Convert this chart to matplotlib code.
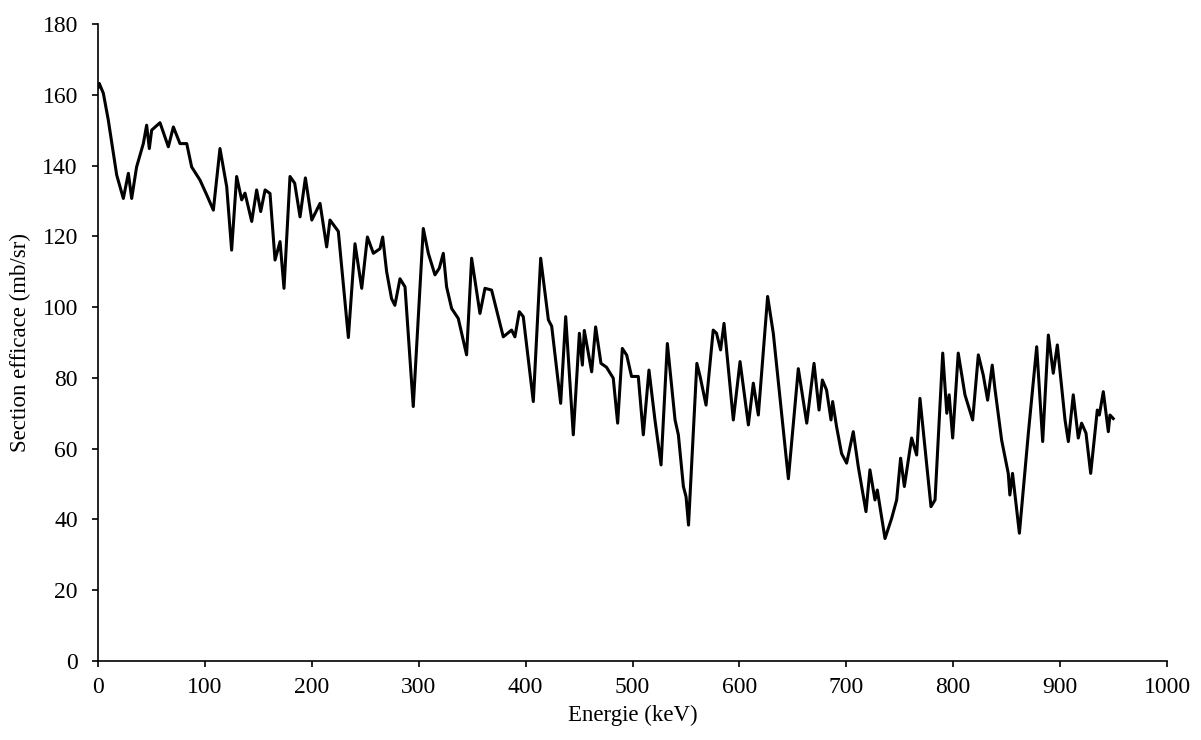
import matplotlib
matplotlib.use("Agg")
import matplotlib.pyplot as plt

# Energie (keV) et section efficace (mb/sr)
energie = [0, 1.2, 5, 9.6, 17.5, 23.7, 28.4, 31.5, 36.1, 42.4, 45.5, 48, 50.2, 58,
           65.8, 70.5, 76.7, 83, 87.6, 95.4, 101.7, 107.9, 114.1, 120.4, 125, 129.7,
           134.4, 137.5, 143.8, 148.4, 152.2, 156.3, 160.9, 165.6, 170.3, 174, 179.6,
           184, 189, 194, 200, 207.7, 213.9, 217, 224.8, 234.2, 240.4, 246.7, 252,
           257.6, 263.8, 266.3, 270, 274.6, 277.7, 282.5, 287.2, 294.9, 304.3, 309,
           315.2, 319.3, 323, 326.1, 330.8, 337, 344.8, 349.5, 357.3, 362, 368.2,
           379.1, 386.9, 390, 394.1, 397.8, 407.2, 414.1, 421.3, 424.4, 432.8, 437.5,
           444.6, 450.3, 453.1, 454.9, 461.8, 465.5, 470.5, 475.7, 482, 486.1, 490.5,
           494.6, 499.1, 505.4, 510.1, 515.4, 521, 526.7, 532.6, 539.8, 542.9, 547.6,
           550.1, 552.4, 560.2, 563.3, 568.8, 575.5, 578.6, 582.4, 585.6, 594.3,
           600.6, 608.4, 613, 617.7, 626.4, 631.7, 645.8, 655.1, 663, 669.8, 674.5,
           677.6, 681.5, 685.7, 687.2, 690.9, 695.6, 700.3, 706.5, 711.2, 718.4,
           722.1, 726.8, 729, 736.2, 742.4, 747.1, 750.8, 754.3, 761.1, 765.8, 768.9,
           779.2, 783, 790.2, 794, 796.2, 799.5, 804.7, 811, 818.2, 823.5, 828.1,
           832.2, 836.5, 839, 845.3, 851.5, 853, 855.5, 861.9, 870.3, 878.1, 883.7,
           889, 893.6, 897.4, 904.6, 907.7, 912.3, 917, 920.1, 924.2, 928.6, 934.8,
           936.7, 940.4, 945.1, 946.6, 949.7]
section = [162, 163.2, 160.4, 152.9, 137.3, 130.7, 137.8, 130.7, 139.6, 146.2, 151.4,
           144.8, 150, 152.1, 145.3, 150.9, 146.2, 146.2, 139.6, 135.9, 131.7, 127.4,
           144.8, 134, 116.1, 136.9, 130.3, 132.2, 124.2, 133.1, 127, 133.1, 132.1,
           113.3, 118.5, 105.3, 136.9, 135, 125.5, 136.5, 124.6, 129.3, 117, 124.6,
           121.4, 91.4, 117.9, 105.3, 119.8, 115.2, 116.5, 119.8, 110, 102.4, 100.5,
           108, 105.7, 71.9, 122.2, 115.2, 109.1, 111, 115.2, 105.7, 99.6, 96.8, 86.5,
           113.8, 98.2, 105.3, 104.8, 91.6, 93.5, 91.6, 98.7, 97.3, 73.3, 113.8, 96.4,
           94.6, 72.8, 97.3, 63.9, 92.6, 83.6, 93.4, 81.7, 94.4, 84.1, 83, 79.9, 67.2,
           88.3, 86.4, 80.4, 80.4, 63.9, 82.2, 68.1, 55.4, 89.7, 68.1, 63.9, 49.3,
           46.4, 38.4, 84.1, 80.3, 72.3, 93.5, 92.6, 87.9, 95.4, 68.1, 84.6, 66.7,
           78.5, 69.5, 103, 92.6, 51.5, 82.6, 67.2, 84.1, 70.9, 79.4, 76.6, 68.1,
           73.3, 66.2, 58.6, 55.9, 64.8, 54.9, 42.2, 54, 45.5, 48.3, 34.6, 40.3, 45.5,
           57.3, 49.3, 63, 58.2, 74.2, 43.6, 45.5, 87, 70, 75.2, 63, 87, 75.2, 68.1,
           86.5, 80.8, 73.7, 83.6, 77, 62.4, 53, 46.9, 53, 36.1, 64.4, 88.8, 62,
           92.1, 81.3, 89.3, 68.1, 62, 75.2, 63, 67.2, 64.4, 53, 70.9, 69.5, 76.1,
           64.8, 69.5, 68.5]

x_ticks = list(range(0, 1001, 100))
y_ticks = list(range(0, 181, 20))

plt.rcParams['font.family'] = ['Liberation Serif', 'DejaVu Serif']

fig = plt.figure(figsize=(12.01, 7.40), dpi=100)
ax = fig.add_axes([0.0816, 0.1068, 0.8901, 0.8608])

ax.plot(energie, section, color='black', linewidth=2.2, solid_joinstyle='round')

ax.set_xlim(0, 1000)
ax.set_ylim(0, 180)
ax.set_xticks(x_ticks)
ax.set_yticks(y_ticks)
ax.spines['top'].set_visible(False)
ax.spines['right'].set_visible(False)
for s in ['left', 'bottom']:
    ax.spines[s].set_linewidth(1.2)
ax.tick_params(direction='out', length=4.5, width=1.2, labelsize=17)
ax.tick_params(axis='y', pad=10)
ax.tick_params(axis='x', pad=7)

ax.set_xlabel('Energie (keV)', fontsize=16.5, labelpad=5)
ax.set_ylabel('Section efficace (mb/sr)', fontsize=16.5, labelpad=8)

fig.savefig('out.png', dpi=100)
